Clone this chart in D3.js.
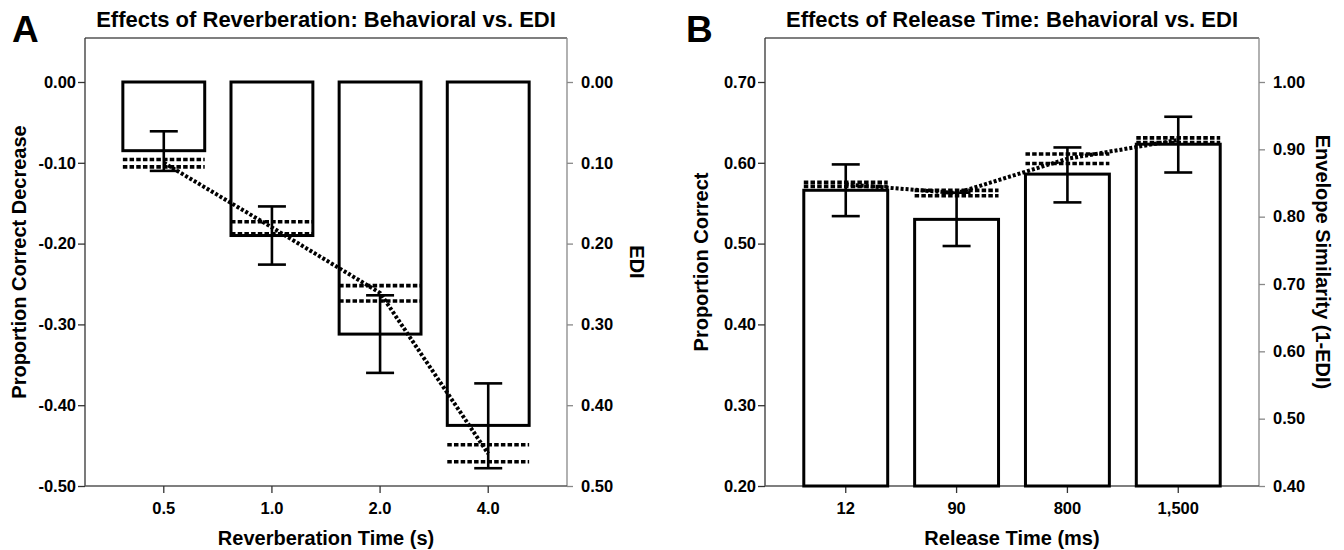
<!DOCTYPE html>
<html>
<head>
<meta charset="utf-8">
<script src="https://cdn.jsdelivr.net/npm/d3@7"></script>
<style>
  body { margin: 0; background: #fff; }
  svg { display: block; }
  text { font-family: "Liberation Sans", Arial, Helvetica, sans-serif; font-weight: bold; fill: #000; }
</style>
</head>
<body>
<div id="chart"></div>
<script>
// ---- data: panel A (reverberation) ----
const reverbTimes = ["0.5", "1.0", "2.0", "4.0"];
const reverbDecrease = [-0.085, -0.190, -0.312, -0.425];
const reverbErrLow = [-0.110, -0.226, -0.360, -0.478];
const reverbErrHigh = [-0.061, -0.154, -0.264, -0.373];
const reverbEdi = [0.100, 0.180, 0.261, 0.460];
const reverbEdiLow = [0.096, 0.173, 0.252, 0.449];
const reverbEdiHigh = [0.105, 0.188, 0.271, 0.470];
const reverbLeftTicks = [0, -0.1, -0.2, -0.3, -0.4, -0.5];
const reverbRightTicks = [0, 0.1, 0.2, 0.3, 0.4, 0.5];

// ---- data: panel B (release time) ----
const releaseTimes = ["12", "90", "800", "1,500"];
const releaseCorrect = [0.566, 0.530, 0.586, 0.623];
const releaseErrLow = [0.534, 0.497, 0.551, 0.588];
const releaseErrHigh = [0.598, 0.563, 0.619, 0.657];
const releaseSim = [0.848, 0.835, 0.886, 0.914];
const releaseSimLow = [0.845, 0.831, 0.879, 0.910];
const releaseSimHigh = [0.851, 0.839, 0.893, 0.917];
const releaseLeftTicks = [0.2, 0.3, 0.4, 0.5, 0.6, 0.7];
const releaseRightTicks = [0.4, 0.5, 0.6, 0.7, 0.8, 0.9, 1.0];

const W = 1344, H = 550;
const svg = d3.select("#chart").append("svg")
    .attr("width", W)
    .attr("height", H);

const frameTop = 38, plotTop = 82, plotBottom = 486;

// plain hyphen for negatives, like the original figure
const fmt = d => d3.format(".2f")(d).replace("\u2212", "-");

function drawPanel(p) {
    let g = svg.append("g");

    // scales
    let x = d3.scaleBand()
        .domain(p.cats)
        .range([p.x0, p.x1])
        .paddingOuter(0.35)
        .paddingInner(0.243);
    let yL = d3.scaleLinear().domain(p.leftDomain).range([plotBottom, plotTop]);
    let yR = d3.scaleLinear().domain(p.rightDomain).range([plotBottom, plotTop]);
    let cx = d => x(d) + x.bandwidth() / 2;

    // frame (top edge)
    g.append("line")
        .attr("x1", p.x0).attr("x2", p.x1)
        .attr("y1", frameTop).attr("y2", frameTop)
        .attr("stroke", "#555").attr("stroke-width", 1.3);

    // left axis
    let left = g.append("g")
        .attr("transform", "translate(" + p.x0 + ",0)")
        .call(d3.axisLeft(yL).tickValues(p.leftTicks).tickFormat(fmt).tickSize(7).tickPadding(2));
    left.select(".domain").attr("d", "M0," + plotBottom + "V" + frameTop).attr("stroke", "#333").attr("stroke-width", 1.3);
    left.selectAll(".tick line").attr("stroke", "#333").attr("stroke-width", 1.3);
    left.selectAll(".tick text").style("font-size", "16.5px");

    // right axis
    let right = g.append("g")
        .attr("transform", "translate(" + p.x1 + ",0)")
        .call(d3.axisRight(yR).tickValues(p.rightTicks).tickFormat(fmt).tickSize(6).tickPadding(8));
    right.select(".domain").attr("d", "M0," + plotBottom + "V" + frameTop).attr("stroke", "#888").attr("stroke-width", 1.3);
    right.selectAll(".tick line").attr("stroke", "#888").attr("stroke-width", 1.3);
    right.selectAll(".tick text").style("font-size", "16.5px");

    // bottom axis
    let bottom = g.append("g")
        .attr("transform", "translate(0," + plotBottom + ")")
        .call(d3.axisBottom(x).tickSize(7).tickPadding(9));
    bottom.select(".domain").attr("d", "M" + p.x0 + ",0H" + p.x1).attr("stroke", "#555").attr("stroke-width", 1.3);
    bottom.selectAll(".tick line").attr("stroke", "#333").attr("stroke-width", 1.3);
    bottom.selectAll(".tick text").style("font-size", "16.5px");

    // bars
    g.selectAll(".bar")
        .data(p.cats)
        .join("rect")
        .attr("class", "bar")
        .attr("x", d => x(d))
        .attr("width", x.bandwidth())
        .attr("y", (d, i) => Math.min(yL(p.bars[i]), yL(p.base)))
        .attr("height", (d, i) => Math.abs(yL(p.bars[i]) - yL(p.base)))
        .attr("fill", "#fff")
        .attr("stroke", "#000")
        .attr("stroke-width", 3);

    // dashed interval lines for the envelope measure
    [p.rLow, p.rHigh].forEach(arr => {
        g.selectAll(null)
            .data(p.cats)
            .join("line")
            .attr("x1", d => x(d))
            .attr("x2", d => x(d) + x.bandwidth())
            .attr("y1", (d, i) => yR(arr[i]))
            .attr("y2", (d, i) => yR(arr[i]))
            .attr("stroke", "#000")
            .attr("stroke-width", 3.6)
            .attr("stroke-dasharray", "4.5,2.2");
    });

    // dotted line linking the envelope means
    let line = d3.line()
        .x((d, i) => cx(p.cats[i]))
        .y(d => yR(d));
    g.append("path")
        .datum(p.rMean)
        .attr("d", line)
        .attr("fill", "none")
        .attr("stroke", "#000")
        .attr("stroke-width", 4)
        .attr("stroke-dasharray", "3,2");

    // error bars
    let cap = 14;
    let err = g.selectAll(".err")
        .data(p.cats)
        .join("g")
        .attr("class", "err");
    err.append("line")
        .attr("x1", d => cx(d)).attr("x2", d => cx(d))
        .attr("y1", (d, i) => yL(p.errLow[i]))
        .attr("y2", (d, i) => yL(p.errHigh[i]));
    err.append("line")
        .attr("x1", d => cx(d) - cap).attr("x2", d => cx(d) + cap)
        .attr("y1", (d, i) => yL(p.errLow[i]))
        .attr("y2", (d, i) => yL(p.errLow[i]));
    err.append("line")
        .attr("x1", d => cx(d) - cap).attr("x2", d => cx(d) + cap)
        .attr("y1", (d, i) => yL(p.errHigh[i]))
        .attr("y2", (d, i) => yL(p.errHigh[i]));
    err.selectAll("line").attr("stroke", "#000").attr("stroke-width", 2.6);

    // titles and labels
    let mid = (p.x0 + p.x1) / 2;
    g.append("text")
        .attr("x", mid).attr("y", 27)
        .attr("text-anchor", "middle")
        .style("font-size", "22px")
        .text(p.title);
    g.append("text")
        .attr("x", p.letterX).attr("y", 42)
        .style("font-size", "37px")
        .text(p.letter);
    g.append("text")
        .attr("x", mid).attr("y", 545)
        .attr("text-anchor", "middle")
        .style("font-size", "20px")
        .text(p.xTitle);
    g.append("text")
        .attr("transform", "translate(" + p.yTitleX + ",262) rotate(-90)")
        .attr("text-anchor", "middle")
        .attr("dy", "0.35em")
        .style("font-size", "20px")
        .text(p.yTitle);
    g.append("text")
        .attr("transform", "translate(" + p.rTitleX + ",262) rotate(90)")
        .attr("text-anchor", "middle")
        .attr("dy", "0.35em")
        .style("font-size", "20px")
        .text(p.rTitle);
}

drawPanel({
    cats: reverbTimes, bars: reverbDecrease, base: 0,
    errLow: reverbErrLow, errHigh: reverbErrHigh,
    rMean: reverbEdi, rLow: reverbEdiLow, rHigh: reverbEdiHigh,
    leftDomain: [-0.5, 0], rightDomain: [0.5, 0],
    leftTicks: reverbLeftTicks, rightTicks: reverbRightTicks,
    x0: 85, x1: 567,
    title: "Effects of Reverberation: Behavioral vs. EDI",
    letter: "A", letterX: 12,
    xTitle: "Reverberation Time (s)",
    yTitle: "Proportion Correct Decrease", yTitleX: 19,
    rTitle: "EDI", rTitleX: 637
});

drawPanel({
    cats: releaseTimes, bars: releaseCorrect, base: 0.2,
    errLow: releaseErrLow, errHigh: releaseErrHigh,
    rMean: releaseSim, rLow: releaseSimLow, rHigh: releaseSimHigh,
    leftDomain: [0.2, 0.7], rightDomain: [0.4, 1.0],
    leftTicks: releaseLeftTicks, rightTicks: releaseRightTicks,
    x0: 765, x1: 1259,
    title: "Effects of Release Time: Behavioral vs. EDI",
    letter: "B", letterX: 686,
    xTitle: "Release Time (ms)",
    yTitle: "Proportion Correct", yTitleX: 701,
    rTitle: "Envelope Similarity (1-EDI)", rTitleX: 1323
});
</script>
</body>
</html>
